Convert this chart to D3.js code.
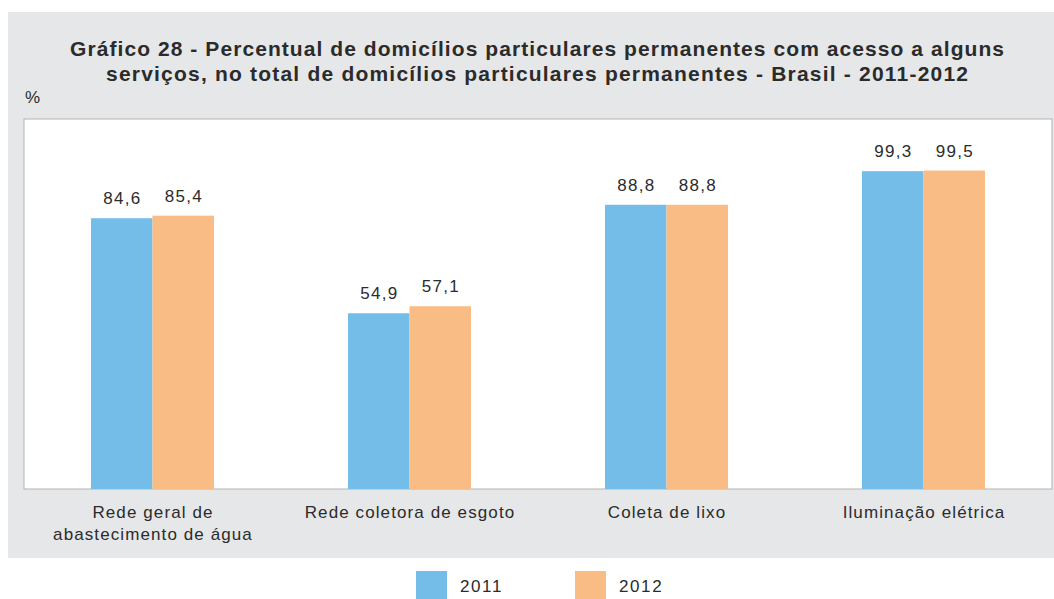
<!DOCTYPE html>
<html>
<head>
<meta charset="utf-8">
<script src="https://cdn.jsdelivr.net/npm/d3@7"></script>
<style>
	body { margin: 0; background: #fff; }
	text { font-family: "Liberation Sans", Arial, sans-serif; fill: #2b2b2b; }
</style>
</head>
<body>
<div id="vis"></div>
<script>
const categories = [
	["Rede geral de", "abastecimento de água"],
	["Rede coletora de esgoto"],
	["Coleta de lixo"],
	["Iluminação elétrica"]
];
const years = ["2011", "2012"];
const values2011 = [84.6, 54.9, 88.8, 99.3];
const values2012 = [85.4, 57.1, 88.8, 99.5];
const titleLines = [
	"Gráfico 28 - Percentual de domicílios particulares permanentes com acesso a alguns",
	"serviços, no total de domicílios particulares permanentes - Brasil - 2011-2012"
];

const W = 1054, H = 599;
const colors = ["#74bde8", "#f9bc85"];

const draw = () => {
	const svg = d3.select("#vis").append("svg")
		.attr("width", W)
		.attr("height", H);

	// gray panel
	svg.append("rect")
		.attr("x", 8).attr("y", 12)
		.attr("width", W - 8).attr("height", 546)
		.attr("fill", "#e6e7e9");

	// title
	const titleLen = [934, 862];
	titleLines.forEach((t, i) => {
		svg.append("text")
			.attr("x", 537)
			.attr("y", 56 + i * 25)
			.attr("text-anchor", "middle")
			.attr("font-size", 21)
			.attr("font-weight", "bold")
			.attr("textLength", titleLen[i])
			.attr("lengthAdjust", "spacing")
			.text(t);
	});

	svg.append("text")
		.attr("x", 25).attr("y", 103)
		.attr("font-size", 17)
		.text("%");

	const plot = { left: 24, right: 1052, top: 119, bottom: 489 };

	svg.append("rect")
		.attr("x", plot.left).attr("y", plot.top)
		.attr("width", plot.right - plot.left)
		.attr("height", plot.bottom - plot.top)
		.attr("fill", "#fff")
		.attr("stroke", "#b3b3b3")
		.attr("stroke-width", 1);

	const x0 = d3.scaleBand()
		.domain(d3.range(categories.length))
		.range([plot.left, plot.right]);
	const x1 = d3.scaleBand()
		.domain(years)
		.range([x0.bandwidth() / 2 - 61.5, x0.bandwidth() / 2 + 61.5]);
	const y = d3.scaleLinear()
		.domain([0, 115.6])
		.range([plot.bottom, plot.top]);

	const series = [values2011, values2012];

	const groups = svg.append("g").selectAll("g")
		.data(categories)
		.join("g")
		.attr("transform", (d, i) => `translate(${x0(i)},0)`);

	groups.each(function(_d, i) {
		const g = d3.select(this);
		years.forEach((yr, j) => {
			const v = series[j][i];
			g.append("rect")
				.attr("x", x1(yr))
				.attr("y", y(v))
				.attr("width", x1.bandwidth())
				.attr("height", plot.bottom - y(v))
				.attr("fill", colors[j]);
			g.append("text")
				.attr("x", x1(yr) + x1.bandwidth() / 2 + 0.6)
				.attr("y", y(v) - 14)
				.attr("text-anchor", "middle")
				.attr("font-size", 17)
				.attr("letter-spacing", 1.3)
				.text(v.toFixed(1).replace(".", ","));
		});
	});

	// category labels
	groups.each(function(d) {
		const g = d3.select(this);
		d.forEach((line, k) => {
			g.append("text")
				.attr("x", x0.bandwidth() / 2 + 0.5)
				.attr("y", 518 + k * 22)
				.attr("text-anchor", "middle")
				.attr("font-size", 17)
				.attr("letter-spacing", 1.1)
				.text(line);
		});
	});

	// legend
	const legendX = [416, 575];
	years.forEach((yr, j) => {
		svg.append("rect")
			.attr("x", legendX[j]).attr("y", 571)
			.attr("width", 31).attr("height", 28)
			.attr("fill", colors[j]);
		svg.append("text")
			.attr("x", legendX[j] + 44).attr("y", 592)
			.attr("font-size", 17)
			.attr("letter-spacing", 1.6)
			.text(yr);
	});
};

draw();
</script>
</body>
</html>
